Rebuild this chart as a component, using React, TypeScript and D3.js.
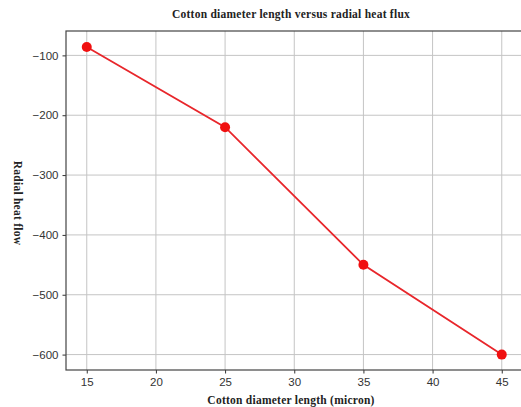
import React, { useEffect, useRef } from "react";
import * as d3 from "d3";

// values
const diameters = [15, 25, 35, 45];
const heatFlow = [-86, -220, -450, -600];
const xTicks = [15, 20, 25, 30, 35, 40, 45];
const yTicks = [-100, -200, -300, -400, -500, -600];

const W = 521;
const H = 407;

const App = () => {
  const ref = useRef<SVGSVGElement | null>(null);

  useEffect(() => {
    if (!ref.current) return;
    const svg = d3.select(ref.current);
    svg.selectAll("*").remove();

    const left = 66,
      top = 31,
      right = 522.5,
      bottom = 370;

    const x = d3.scaleLinear().domain([13.5, 46.5]).range([left, right]);
    const y = d3.scaleLinear().domain([-625.75, -59.25]).range([bottom, top]);

    const fmt = (d: number) => String(d).replace("-", "\u2212");

    // grid
    const grid = svg.append("g").attr("stroke", "#c4c4c4").attr("stroke-width", 1);
    grid
      .selectAll("line.gx")
      .data(xTicks)
      .enter()
      .append("line")
      .attr("x1", (d) => x(d))
      .attr("x2", (d) => x(d))
      .attr("y1", top)
      .attr("y2", bottom);
    grid
      .selectAll("line.gy")
      .data(yTicks)
      .enter()
      .append("line")
      .attr("x1", left)
      .attr("x2", right)
      .attr("y1", (d) => y(d))
      .attr("y2", (d) => y(d));

    // axes
    const xAxis = d3
      .axisBottom(x)
      .tickValues(xTicks)
      .tickSize(3.5)
      .tickPadding(4)
      .tickFormat((d) => fmt(d as number));
    const yAxis = d3
      .axisLeft(y)
      .tickValues(yTicks)
      .tickSize(3.5)
      .tickPadding(4)
      .tickFormat((d) => fmt(d as number));

    const gx = svg
      .append("g")
      .attr("transform", `translate(0,${bottom})`)
      .call(xAxis);
    const gy = svg.append("g").attr("transform", `translate(${left},0)`).call(yAxis);
    [gx, gy].forEach((g) => {
      g.select(".domain").remove();
      g.selectAll(".tick line").attr("stroke", "#333");
      g.selectAll(".tick text")
        .attr("fill", "#333")
        .style("font-family", "'Liberation Sans', Arial, sans-serif")
        .style("font-size", "11.5px");
    });

    // frame
    svg
      .append("rect")
      .attr("x", left)
      .attr("y", top)
      .attr("width", right - left)
      .attr("height", bottom - top)
      .attr("fill", "none")
      .attr("stroke", "#444")
      .attr("stroke-width", 1.2);

    const pts = diameters.map((d, i) => [d, heatFlow[i]] as [number, number]);
    const line = d3
      .line<[number, number]>()
      .x((d) => x(d[0]))
      .y((d) => y(d[1]));

    svg
      .append("path")
      .datum(pts)
      .attr("fill", "none")
      .attr("stroke", "#e8262b")
      .attr("stroke-width", 1.8)
      .attr("d", line);

    svg
      .selectAll("circle")
      .data(pts)
      .enter()
      .append("circle")
      .attr("cx", (d) => x(d[0]))
      .attr("cy", (d) => y(d[1]))
      .attr("r", 5)
      .attr("fill", "#f01010");

    const serif = "'Liberation Serif', 'Times New Roman', serif";
    const label = (sel: d3.Selection<SVGTextElement, unknown, null, undefined>) =>
      sel
        .attr("text-anchor", "middle")
        .style("font-family", serif)
        .style("font-weight", "bold")
        .style("font-size", "11.5px")
        .style("letter-spacing", "0.25px")
        .attr("fill", "#222");

    svg
      .append("text")
      .attr("x", 291)
      .attr("y", 18)
      .call(label)
      .text("Cotton diameter length versus radial heat flux");

    svg
      .append("text")
      .attr("x", 291)
      .attr("y", 404)
      .call(label)
      .text("Cotton diameter length (micron)");

    svg
      .append("text")
      .attr("transform", "translate(14,203) rotate(90)")
      .call(label)
      .text("Radial heat flow");
  }, []);

  return (
    <div style={{ position: "fixed", left: 0, top: 0 }}>
      <svg ref={ref} width={W} height={H} style={{ display: "block", background: "#fff" }} />
    </div>
  );
};

export default App;
